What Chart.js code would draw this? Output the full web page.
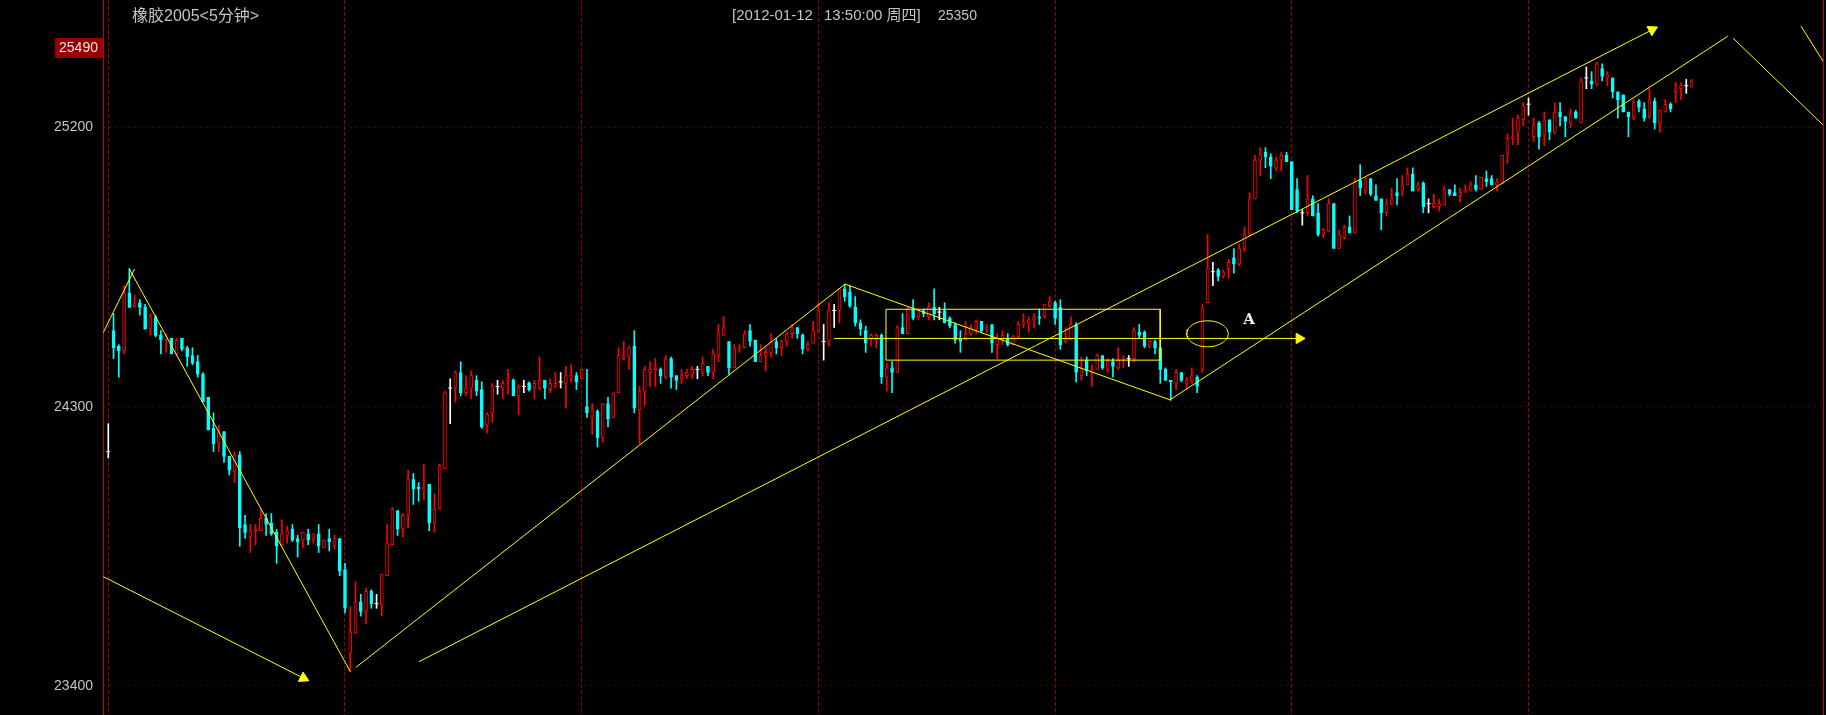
<!DOCTYPE html>
<html><head><meta charset="utf-8">
<script src="https://cdn.jsdelivr.net/npm/chart.js@4.4.1/dist/chart.umd.min.js"></script>
<style>html,body{margin:0;padding:0;background:#000;overflow:hidden}canvas{display:block}</style>
</head><body>
<canvas id="c" width="1826" height="715"></canvas>
<script>
// ---------- data (5-minute bars, index = bar number) ----------
const OPEN = [24155,24545,24495,24480,24665,24625,24635,24620,24550,24590,
24530,24515,24520,24470,24520,24490,24465,24445,24405,24330,
24230,24185,24220,24140,24090,24145,23920,23880,23900,23900,
23940,23925,23895,23855,23885,23905,23875,23870,23890,23875,
23890,23845,23875,23850,23875,23775,23505,23570,23670,23640,
23705,23665,23660,23755,23855,23965,23905,23950,24065,24040,
24035,24050,23925,23970,24100,24360,24360,24410,24345,24360,
24385,24355,24240,24280,24365,24360,24385,24385,24335,24365,
24375,24360,24360,24385,24355,24365,24380,24375,24395,24400,
24390,24300,24265,24285,24200,24310,24265,24345,24455,24460,
24495,24290,24350,24410,24415,24420,24395,24455,24400,24390,
24400,24405,24420,24410,24430,24410,24465,24530,24510,24425,
24485,24490,24545,24515,24445,24465,24475,24510,24490,24510,
24535,24555,24530,24485,24505,24540,24510,24510,24610,24610,
24680,24670,24620,24570,24545,24520,24515,24530,24395,24425,
24410,24555,24535,24615,24590,24610,24590,24620,24605,24610,
24585,24565,24520,24515,24535,24550,24575,24550,24565,24500,
24515,24520,24500,24525,24565,24570,24580,24590,24590,24625,
24635,24620,24510,24515,24565,24400,24450,24410,24420,24465,
24420,24445,24425,24450,24455,24455,24540,24540,24495,24510,
24490,24420,24385,24375,24410,24375,24385,24395,24420,24635,
24735,24740,24720,24745,24780,24760,24810,24855,24970,25095,
25120,25105,25070,25095,25110,25090,25000,24925,24925,24970,
24925,24855,24865,24955,24810,24845,24880,24860,25030,24995,
25035,24980,24970,24925,24955,24990,24995,25015,25050,25000,
25020,24955,24945,24945,24950,25000,24990,24980,24995,24995,
25015,25000,25035,25035,25015,25020,25115,25165,25185,25225,
25275,25170,25215,25175,25225,25185,25250,25235,25215,25250,
25215,25360,25350,25340,25390,25360,25360,25315,25305,25250,
25230,25285,25260,25235,25285,25215,25250,25275,25315,25325,
25335,25330];
const HIGH = [24245,24600,24500,24690,24745,24660,24645,24630,24600,24595,
24545,24535,24520,24520,24520,24495,24490,24465,24410,24330,
24280,24240,24220,24140,24155,24155,23950,23920,23920,23970,
23955,23955,23905,23935,23915,23920,23885,23895,23905,23890,
23920,23870,23905,23885,23875,23795,23655,23735,23695,23715,
23710,23695,23760,23920,23975,23965,23955,24095,24085,24055,
24115,24050,24020,24115,24350,24390,24415,24445,24400,24415,
24400,24380,24280,24375,24385,24385,24420,24390,24370,24385,
24380,24385,24460,24385,24390,24410,24410,24430,24435,24410,
24420,24420,24310,24290,24310,24330,24345,24490,24510,24495,
24545,24365,24430,24445,24455,24425,24465,24460,24400,24420,
24420,24430,24430,24460,24430,24485,24565,24590,24510,24500,
24500,24545,24565,24515,24500,24490,24535,24520,24515,24540,
24565,24555,24535,24510,24575,24635,24565,24635,24630,24680,
24695,24690,24655,24580,24560,24535,24535,24535,24440,24445,
24560,24600,24620,24645,24615,24615,24635,24680,24620,24635,
24590,24570,24545,24575,24565,24580,24575,24565,24565,24535,
24545,24535,24530,24575,24600,24590,24600,24615,24630,24655,
24640,24645,24555,24590,24570,24460,24460,24435,24470,24465,
24455,24455,24490,24465,24465,24555,24565,24545,24515,24515,
24490,24425,24385,24420,24410,24395,24425,24400,24630,24855,
24765,24745,24740,24775,24810,24825,24880,24990,25110,25135,
25135,25115,25105,25120,25120,25090,25035,24935,25045,24980,
24955,24875,24970,24955,24870,24885,24915,25035,25080,25035,
25035,25015,24970,24970,25005,25035,25045,25070,25070,25025,
25025,24970,24985,24970,25010,25000,25015,25005,25015,25025,
25045,25040,25060,25045,25035,25110,25180,25230,25240,25280,
25295,25230,25220,25250,25225,25280,25280,25235,25260,25255,
25360,25395,25380,25410,25405,25380,25360,25315,25305,25250,
25290,25290,25280,25325,25295,25255,25290,25280,25345,25345,
25355,25355];
const LOW = [24135,24455,24395,24470,24620,24620,24595,24550,24530,24525,
24470,24475,24470,24465,24480,24430,24435,24395,24315,24225,
24155,24155,24120,24080,24055,23850,23875,23830,23855,23900,
23885,23885,23795,23850,23860,23865,23815,23845,23855,23860,
23830,23845,23835,23840,23755,23635,23445,23570,23625,23600,
23650,23650,23625,23755,23855,23885,23880,23910,23985,23995,
24000,23900,23895,23970,24100,24245,24315,24335,24335,24325,
24335,24230,24215,24250,24340,24325,24340,24335,24275,24345,
24350,24325,24355,24325,24345,24360,24360,24295,24380,24355,
24390,24265,24210,24170,24185,24235,24265,24345,24450,24420,
24280,24180,24305,24365,24365,24375,24390,24360,24355,24375,
24390,24390,24390,24400,24400,24390,24445,24530,24405,24425,
24475,24490,24495,24445,24445,24415,24460,24470,24465,24495,
24520,24520,24470,24480,24505,24540,24450,24495,24555,24570,
24640,24620,24560,24530,24475,24495,24490,24375,24350,24345,
24410,24535,24535,24580,24580,24590,24580,24580,24580,24570,
24555,24505,24475,24515,24530,24535,24540,24540,24475,24455,
24500,24495,24500,24520,24555,24540,24555,24565,24585,24620,
24565,24485,24505,24515,24380,24385,24400,24365,24420,24420,
24410,24395,24420,24425,24430,24445,24520,24490,24490,24470,
24375,24385,24320,24355,24380,24355,24375,24345,24410,24635,
24690,24705,24715,24715,24730,24755,24800,24850,24970,25045,
25070,25035,25060,25060,25090,24935,24925,24885,24915,24915,
24850,24845,24865,24810,24810,24840,24860,24860,24980,24985,
24980,24965,24870,24915,24950,24950,24980,25015,24995,24995,
24925,24925,24940,24930,24950,24980,24980,24960,24990,24995,
24995,25000,25010,25015,24995,25020,25085,25145,25145,25205,
25240,25155,25130,25140,25160,25180,25205,25170,25200,25230,
25215,25325,25325,25335,25350,25335,25295,25230,25250,25170,
25225,25250,25220,25230,25195,25185,25250,25250,25280,25290,
25310,25330];
const CLOSE = [24155,24490,24480,24665,24620,24635,24620,24550,24590,24530,
24515,24525,24470,24515,24485,24460,24440,24405,24315,24225,
24180,24220,24140,24095,24145,23910,23895,23900,23905,23940,
23920,23890,23850,23890,23900,23870,23865,23895,23870,23890,
23850,23870,23865,23875,23770,23650,23575,23670,23640,23705,
23665,23665,23760,23860,23970,23905,23950,24065,24035,24035,
24040,23925,23970,24110,24345,24360,24410,24345,24360,24400,
24350,24235,24275,24365,24365,24375,24390,24335,24365,24365,
24355,24375,24385,24360,24375,24375,24380,24400,24400,24380,
24420,24280,24290,24200,24310,24260,24345,24465,24465,24490,
24295,24350,24420,24420,24420,24400,24455,24395,24385,24400,
24410,24420,24420,24440,24410,24470,24535,24555,24425,24490,
24490,24535,24510,24445,24465,24475,24510,24490,24510,24535,
24555,24535,24485,24500,24545,24610,24510,24610,24610,24680,
24655,24625,24570,24550,24505,24530,24530,24395,24425,24410,
24555,24535,24615,24585,24610,24600,24620,24600,24605,24570,
24560,24515,24510,24535,24555,24575,24545,24555,24505,24520,
24530,24500,24525,24565,24570,24580,24590,24585,24630,24640,
24585,24500,24520,24565,24410,24425,24415,24420,24465,24425,
24445,24430,24450,24455,24455,24545,24530,24495,24510,24490,
24420,24385,24380,24410,24385,24385,24400,24365,24615,24745,
24735,24720,24735,24765,24760,24810,24855,24970,25095,25115,
25105,25075,25095,25110,25090,24935,24930,24925,24970,24915,
24855,24870,24955,24810,24855,24880,24860,25025,25005,25035,
24985,24965,24925,24955,24970,24980,25015,25050,24995,25015,
24945,24955,24955,24955,25000,24985,24980,24990,25000,25015,
25000,25040,25025,25015,25025,25110,25165,25170,25230,25270,
25275,25205,25170,25225,25185,25250,25235,25220,25245,25230,
25350,25360,25340,25405,25365,25370,25315,25290,25250,25235,
25280,25265,25230,25290,25215,25255,25275,25260,25325,25335,
25335,25350];

const Y_TICKS = [23400, 24300, 25200];
const DAY_BREAKS = [0, 45, 90, 135, 180, 225, 270];
const TITLE = '橡胶2005<5分钟>';
const HEADER_DATE = '[2012-01-12';
const HEADER_TIME = '13:50:00 周四]';
const HEADER_PRICE = '25350';
const MARKER_PRICE = '25490';

// hand-drawn annotations, in [bar index, price]
const TREND_LINES = [
  [[-0.95, 24539], [5.0, 24744]],
  [[4.0, 24744], [46.0, 23446]],
  [[47.1, 23460], [140.06, 24695]],
  [[140.06, 24695], [201.85, 24322]],
  [[201.85, 24322], [307.87, 25494]],
  [[308.9, 25488], [326.5, 25200]],
  [[321.8, 25527], [326.5, 25400]]
];
const ARROWS = [
  {from: [-0.95, 23752], to: [37.1, 23425], angle: 116.7},
  {from: [59.07, 23478], to: [293.5, 25515], angle: 62.9},
  {from: [137.97, 24520], to: [226.4, 24520], angle: 90}
];
const BOX = {x0: 147.85, x1: 199.98, top: 24614, bottom: 24450};
const ELLIPSE = {cx: 208.97, cy: 24535, rx: 3.95, ry: 41.9};
const LABEL_A = {x: 216.86, y: 24579, text: 'A'};

// ---------- build ----------
const RED = '#ff0000', CYAN = '#00ffff', WHITE = '#ffffff', YEL = '#ffff00';
const GRID = '#900000', AXIS = '#c80000', TEXT = '#c4c4c4';
const colorOf = i => CLOSE[i] > OPEN[i] ? RED : (CLOSE[i] < OPEN[i] ? CYAN : WHITE);

const wickData = [], wickColors = [];
const bodyData = [], bodyFill = [], bodyBorder = [];
const dojiData = [];
for (let i = 0; i < CLOSE.length; i++) {
  const o = OPEN[i], c = CLOSE[i];
  wickData.push({x: i, y: [Math.min(LOW[i], o, c), Math.max(HIGH[i], o, c)]});
  wickColors.push(colorOf(i));
  if (o === c) {
    dojiData.push({x: i, y: o});
  } else {
    bodyData.push({x: i, y: [Math.min(o, c), Math.max(o, c)]});
    bodyFill.push(c > o ? '#000000' : CYAN);
    bodyBorder.push(colorOf(i));
  }
}

const datasets = [];
datasets.push({type: 'bar', data: wickData, backgroundColor: wickColors, borderWidth: 0,
  barThickness: 1, grouped: false, order: 4});
datasets.push({type: 'bar', data: bodyData, backgroundColor: bodyFill, borderColor: bodyBorder,
  borderWidth: 1, borderSkipped: false, barThickness: 3, grouped: false, order: 3});
datasets.push({type: 'line', data: dojiData, showLine: false, pointStyle: 'line', pointRadius: 2,
  pointBorderWidth: 1, pointBorderColor: WHITE, pointBackgroundColor: WHITE, order: 2});

const lineStyle = {type: 'line', borderColor: YEL, borderWidth: 1, pointRadius: 0, fill: false,
  tension: 0, order: 1};
TREND_LINES.forEach(seg => datasets.push(Object.assign({}, lineStyle,
  {data: seg.map(p => ({x: p[0], y: p[1]}))})));
ARROWS.forEach(a => datasets.push(Object.assign({}, lineStyle, {
  data: [{x: a.from[0], y: a.from[1]}, {x: a.to[0], y: a.to[1]}],
  pointRadius: [0, 6], pointStyle: 'triangle', rotation: [0, a.angle],
  pointBackgroundColor: YEL, pointBorderColor: YEL, pointBorderWidth: 1
})));
datasets.push(Object.assign({}, lineStyle, {data: [
  {x: BOX.x0, y: BOX.top}, {x: BOX.x1, y: BOX.top}, {x: BOX.x1, y: BOX.bottom},
  {x: BOX.x0, y: BOX.bottom}, {x: BOX.x0, y: BOX.top}]}));
const ell = [];
for (let k = 0; k <= 72; k++) {
  const t = k / 72 * Math.PI * 2;
  ell.push({x: ELLIPSE.cx + ELLIPSE.rx * Math.cos(t), y: ELLIPSE.cy + ELLIPSE.ry * Math.sin(t)});
}
datasets.push(Object.assign({}, lineStyle, {data: ell}));

const textPlugin = {
  id: 'texts',
  afterDraw(chart) {
    const ctx = chart.ctx;
    const xs = chart.scales.x, ys = chart.scales.y;
    ctx.save();
    ctx.textBaseline = 'middle';
    ctx.textAlign = 'left';
    ctx.fillStyle = TEXT;
    ctx.font = '16px "Liberation Sans", "Noto Sans CJK SC", sans-serif';
    ctx.fillText(TITLE, 132, 17);
    ctx.font = '15px "Liberation Sans", "Noto Sans CJK SC", sans-serif';
    ctx.fillText(HEADER_DATE, 732, 16);
    ctx.fillText(HEADER_TIME, 824, 16);
    ctx.font = '14px "Liberation Sans", "Noto Sans CJK SC", sans-serif';
    ctx.fillText(HEADER_PRICE, 938, 16);
    // y-axis tick labels (positioned by the y scale)
    ctx.textAlign = 'right';
    ctx.font = '14px "Liberation Sans", Arial, sans-serif';
    Y_TICKS.forEach(v => ctx.fillText(String(v), 93, ys.getPixelForValue(v)));
    // current price marker on the axis
    ctx.fillStyle = '#960000';
    ctx.fillRect(55, 38, 48, 20);
    ctx.fillStyle = '#e6e6e6';
    ctx.textAlign = 'center';
    ctx.fillText(MARKER_PRICE, 78.5, 48.5);
    // label A
    ctx.font = 'bold 15px "DejaVu Serif", "Liberation Serif", serif';
    ctx.fillStyle = '#f0f0f0';
    ctx.fillText(LABEL_A.text, xs.getPixelForValue(LABEL_A.x), ys.getPixelForValue(LABEL_A.y));
    ctx.restore();
  }
};

new Chart(document.getElementById('c'), {
  type: 'bar',
  data: {datasets},
  options: {
    responsive: false, animation: false, devicePixelRatio: 1, events: [],
    layout: {padding: 0, autoPadding: false},
    plugins: {legend: {display: false}, tooltip: {enabled: false}},
    scales: {
      x: {
        type: 'linear', min: -1.0076, max: 325.99, offset: false,
        ticks: {display: false},
        grid: {color: GRID, drawTicks: false, offset: false, lineWidth: 1},
        border: {display: false, dash: [4, 2]},
        afterBuildTicks: s => { s.ticks = DAY_BREAKS.map(v => ({value: v})); },
        afterFit: s => { s.height = 0; }
      },
      y: {
        type: 'linear', position: 'left', min: 23306, max: 25611,
        ticks: {display: false},
        grid: {color: GRID, drawTicks: false, lineWidth: 1},
        border: {display: true, color: AXIS, width: 1, dash: [1, 5]},
        afterBuildTicks: s => { s.ticks = Y_TICKS.map(v => ({value: v})); },
        afterFit: s => { s.width = 103; }
      },
      yR: {
        type: 'linear', position: 'right', min: 23306, max: 25611,
        ticks: {display: false}, grid: {display: false},
        border: {display: true, color: AXIS, width: 1},
        afterFit: s => { s.width = 3; }
      }
    }
  },
  plugins: [textPlugin]
});
</script>
</body></html>
